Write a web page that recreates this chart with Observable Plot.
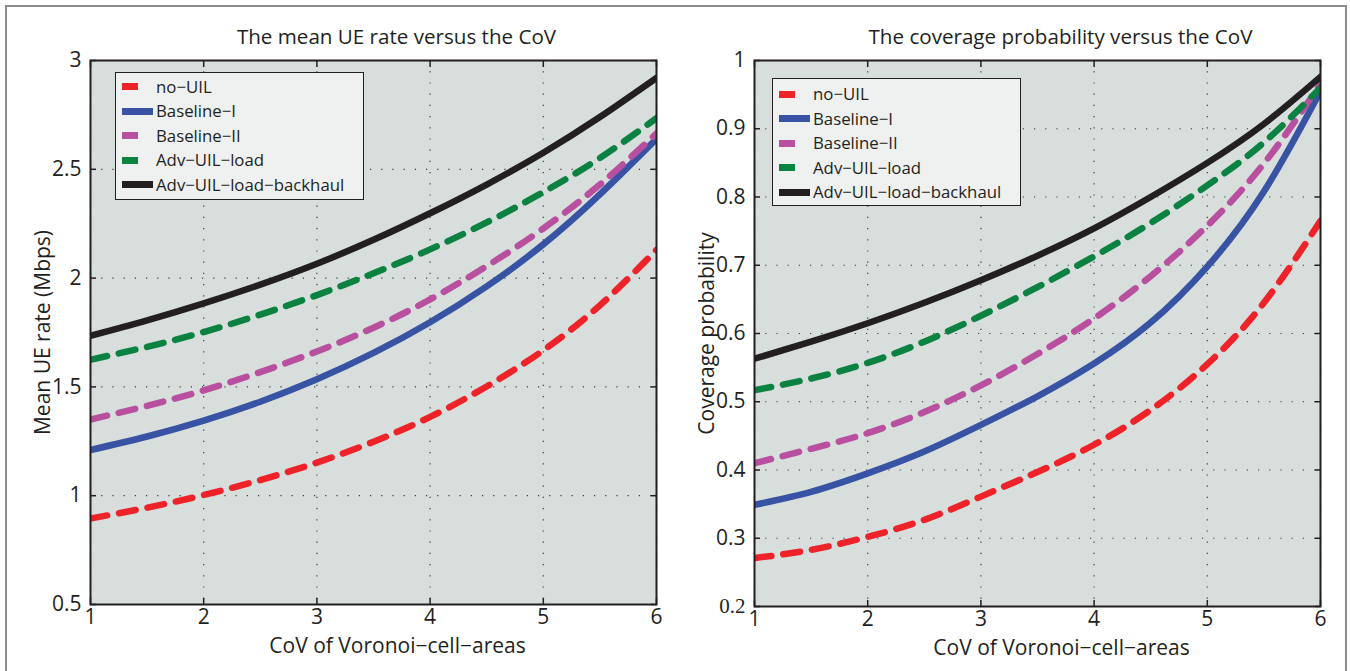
<!DOCTYPE html>
<html><head><meta charset="utf-8">
<script src="https://cdn.jsdelivr.net/npm/d3@7"></script>
<script src="https://cdn.jsdelivr.net/npm/@observablehq/plot@0.6"></script>
<style>
body{margin:0;background:#fff;font-family:"Open Sans",sans-serif;}
#wrap{position:relative;width:1350px;height:671px;overflow:hidden;background:#fff;}
#frame{position:absolute;left:5px;top:5px;width:1342px;height:700px;border:2px solid #8c8c8c;box-sizing:border-box;}
.panel{position:absolute;top:0;}
.legend{position:absolute;background:#eef1f0;border:1.5px solid #231f20;box-sizing:border-box;}
.item{position:absolute;left:0;font-size:16.8px;color:#231f20;white-space:nowrap;line-height:20px;height:20px;}
.sw{position:absolute;height:7px;}
</style></head>
<body><div id="wrap"><div id="frame"></div></div>
<script>
const xs = [1, 1.5, 2, 2.5, 3, 3.5, 4, 4.5, 5, 5.5, 6];
const xTicks = [1, 2, 3, 4, 5, 6];

const seriesNames = ["no\u2212UIL", "Baseline\u2212I", "Baseline\u2212II", "Adv\u2212UIL\u2212load", "Adv\u2212UIL\u2212load\u2212backhaul"];
const seriesColors = ["#ee2229", "#3953a4", "#b8509f", "#0b8142", "#231f20"];
const seriesDashed = [true, false, true, true, false];

// Mean UE rate (Mbps)
const rateNoUIL   = [0.895, 0.945, 1.003, 1.072, 1.152, 1.248, 1.362, 1.502, 1.668, 1.875, 2.13];
const rateBaseI   = [1.21, 1.272, 1.345, 1.432, 1.535, 1.656, 1.797, 1.962, 2.155, 2.385, 2.64];
const rateBaseII  = [1.35, 1.413, 1.484, 1.568, 1.663, 1.772, 1.902, 2.055, 2.228, 2.43, 2.665];
const rateAdvLoad = [1.625, 1.684, 1.752, 1.832, 1.922, 2.022, 2.132, 2.256, 2.395, 2.552, 2.735];
const rateAdvBack = [1.735, 1.806, 1.884, 1.97, 2.066, 2.176, 2.298, 2.43, 2.576, 2.74, 2.92];
const rateTicks = [0.5, 1, 1.5, 2, 2.5, 3];

// Coverage probability
const covNoUIL   = [0.271, 0.283, 0.302, 0.327, 0.361, 0.397, 0.437, 0.488, 0.555, 0.645, 0.765];
const covBaseI   = [0.349, 0.368, 0.395, 0.427, 0.466, 0.508, 0.556, 0.616, 0.698, 0.808, 0.955];
const covBaseII  = [0.41, 0.431, 0.454, 0.485, 0.524, 0.570, 0.622, 0.684, 0.758, 0.849, 0.966];
const covAdvLoad = [0.517, 0.534, 0.557, 0.588, 0.626, 0.668, 0.713, 0.762, 0.817, 0.880, 0.96];
const covAdvBack = [0.563, 0.588, 0.615, 0.645, 0.678, 0.714, 0.754, 0.80, 0.85, 0.907, 0.976];
const covTicks = [0.2, 0.3, 0.4, 0.5, 0.6, 0.7, 0.8, 0.9, 1];

function toRows(arrays) {
  const rows = [];
  arrays.forEach((arr, i) => arr.forEach((v, j) => rows.push({s: i, x: xs[j], y: v})));
  return rows;
}

const INK = "#231f20";

function panel({left, marginBottom, yDomain, yTicks, series, title, ylabel, xlabel, legendPos}) {
  const rows = toRows(series);
  const lineMarks = series.map((_, i) => Plot.line(rows.filter(r => r.s === i), {
    x: "x", y: "y", stroke: seriesColors[i], strokeWidth: 6.5,
    strokeDasharray: seriesDashed[i] ? "17,12" : null, curve: "natural", clip: true
  }));
  const chart = Plot.plot({
    width: 675, height: 671,
    marginLeft: 90, marginRight: 19, marginTop: 60, marginBottom,
    style: {fontFamily: "Open Sans", fontSize: "20px", color: INK, background: "transparent", overflow: "visible"},
    x: {domain: [1, 6]},
    y: {domain: yDomain},
    marks: [
      Plot.frame({fill: "#d7dedb", stroke: null}),
      Plot.gridX(xTicks, {stroke: INK, strokeOpacity: 0.85, strokeWidth: 1.2, strokeDasharray: "1.2,10"}),
      Plot.gridY(yTicks, {stroke: INK, strokeOpacity: 0.85, strokeWidth: 1.2, strokeDasharray: "1.2,10"}),
      ...lineMarks,
      Plot.axisX(xTicks, {anchor: "bottom", tickSize: -6, tickFormat: () => "", label: null, stroke: INK, strokeWidth: 1.5}),
      Plot.axisX(xTicks, {anchor: "top", tickSize: -6, tickFormat: () => "", label: null, stroke: INK, strokeWidth: 1.5}),
      Plot.axisY(yTicks, {anchor: "left", tickSize: -6, tickFormat: () => "", label: null, stroke: INK, strokeWidth: 1.5}),
      Plot.axisY(yTicks, {anchor: "right", tickSize: -6, tickFormat: () => "", label: null, stroke: INK, strokeWidth: 1.5}),
      Plot.axisX(xTicks, {anchor: "bottom", tickSize: 0, tickPadding: 5, tickFormat: d => String(d), label: null, fontSize: 21}),
      Plot.axisY(yTicks, {anchor: "left", tickSize: 0, tickPadding: 9, tickFormat: d => String(+d.toFixed(2)), label: null, fontSize: 21}),
      Plot.frame({stroke: INK, strokeWidth: 2}),
      Plot.text([title], {frameAnchor: "top", dy: -23, dx: 23, text: d => d, fontSize: 20.6, lineAnchor: "middle", textAnchor: "middle"}),
      Plot.text([xlabel], {frameAnchor: "bottom", dy: 42, dx: 24, text: d => d, fontSize: 21, lineAnchor: "middle", textAnchor: "middle"}),
      Plot.text([ylabel], {frameAnchor: "left", dx: -47, text: d => d, rotate: -90, fontSize: 21, lineAnchor: "middle", textAnchor: "middle"})
    ]
  });
  const div = document.createElement("div");
  div.className = "panel";
  div.style.left = left + "px";
  div.appendChild(chart);
  document.getElementById("wrap").appendChild(div);

  // legend
  const lg = document.createElement("div");
  lg.className = "legend";
  lg.style.left = legendPos.x + "px";
  lg.style.top = legendPos.y + "px";
  lg.style.width = legendPos.w + "px";
  lg.style.height = legendPos.h + "px";
  seriesNames.forEach((name, i) => {
    const cy = legendPos.first + i * 24.6;
    const sw = document.createElement("div");
    sw.className = "sw";
    sw.style.left = "6px";
    sw.style.top = (cy - 3.5) + "px";
    sw.style.width = (seriesDashed[i] ? 15.5 : 30.5) + "px";
    sw.style.background = seriesColors[i];
    lg.appendChild(sw);
    const it = document.createElement("div");
    it.className = "item";
    it.style.left = "40px";
    it.style.top = (cy - 10) + "px";
    it.textContent = name;
    lg.appendChild(it);
  });
  document.getElementById("wrap").appendChild(lg);
  return chart;
}

panel({
  left: 0, marginBottom: 67, yDomain: [0.5, 3], yTicks: rateTicks,
  series: [rateNoUIL, rateBaseI, rateBaseII, rateAdvLoad, rateAdvBack],
  title: "The mean UE rate versus the CoV",
  ylabel: "Mean UE rate (Mbps)", xlabel: "CoV of Voronoi\u2212cell\u2212areas",
  legendPos: {x: 115, y: 72, w: 249, h: 128, first: 13.5}
});
const right = panel({
  left: 664, marginBottom: 65, yDomain: [0.2, 1], yTicks: covTicks,
  series: [covNoUIL, covBaseI, covBaseII, covAdvLoad, covAdvBack],
  title: "The coverage probability versus the CoV",
  ylabel: "Coverage probability", xlabel: "CoV of Voronoi\u2212cell\u2212areas",
  legendPos: {x: 772, y: 78, w: 249, h: 128, first: 15}
});
// the original renders the lowest tick label of the right panel in a serif face
d3.select(right).selectAll("text").filter(function() { return this.textContent === "0.2"; })
  .attr("font-family", "Liberation Serif").style("font-family", "Liberation Serif");
</script></body></html>
